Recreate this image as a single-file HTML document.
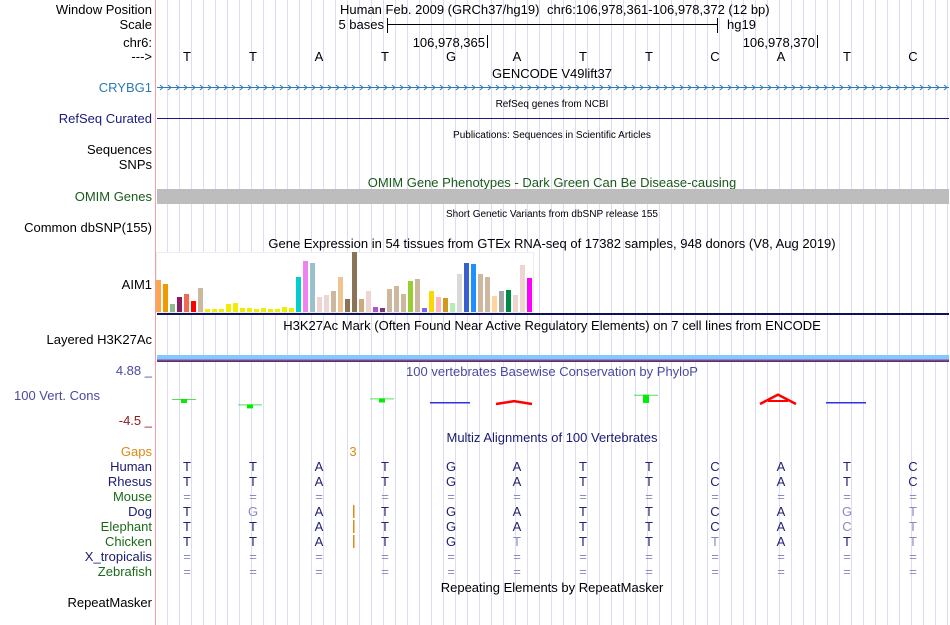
<!DOCTYPE html>
<html><head><meta charset="utf-8"><style>
html,body{margin:0;padding:0;background:#fff;}
svg{display:block;font-family:"Liberation Sans",sans-serif;}
</style></head><body>
<svg id="page" width="950" height="625" viewBox="0 0 950 625" xmlns="http://www.w3.org/2000/svg">
<g id="grid"></g>
<line x1="155.5" y1="0" x2="155.5" y2="625" stroke="#f4a0a0" stroke-width="1"/>
<g id="labels" font-size="13" text-anchor="end">
<text x="152" y="14" fill="#000">Window Position</text>
<text x="152" y="29" fill="#000">Scale</text>
<text x="152" y="47" fill="#000">chr6:</text>
<text x="152" y="61" fill="#000">---&gt;</text>
<text x="152" y="92" fill="#2a7ab8">CRYBG1</text>
<text x="152" y="123" fill="#1a1a80">RefSeq Curated</text>
<text x="152" y="154" fill="#000">Sequences</text>
<text x="152" y="169" fill="#000">SNPs</text>
<text x="152" y="201" fill="#1a5a1a">OMIM Genes</text>
<text x="152" y="232" fill="#000">Common dbSNP(155)</text>
<text x="152" y="289" fill="#000">AIM1</text>
<text x="152" y="344" fill="#000">Layered H3K27Ac</text>
<text x="152" y="375" fill="#4a4aa0">4.88 _</text>
<text x="100" y="400" fill="#4a4aa0">100 Vert. Cons</text>
<text x="152" y="425" fill="#8b1a1a">-4.5 _</text>
<text x="152" y="456" fill="#e08a10">Gaps</text>
<text x="152" y="607" fill="#000">RepeatMasker</text>
</g>
<g id="center" fill="#000" font-size="13">
<text x="340" y="14">Human Feb. 2009 (GRCh37/hg19)</text>
<text x="547" y="14">chr6:106,978,361-106,978,372 (12 bp)</text>
<text x="384" y="29" text-anchor="end">5 bases</text>
<line x1="387" y1="24.5" x2="717" y2="24.5" stroke="#000"/>
<line x1="387.5" y1="18" x2="387.5" y2="33" stroke="#000"/>
<line x1="717.5" y1="18" x2="717.5" y2="33" stroke="#000"/>
<text x="727" y="29">hg19</text>
<text x="485" y="47" text-anchor="end">106,978,365</text>
<line x1="487.5" y1="35" x2="487.5" y2="48" stroke="#000"/>
<text x="815" y="47" text-anchor="end">106,978,370</text>
<line x1="817.5" y1="35" x2="817.5" y2="48" stroke="#000"/>
<g id="bases" text-anchor="middle"></g>
<text x="552" y="78" text-anchor="middle">GENCODE V49lift37</text>
<line x1="157" y1="87.5" x2="949" y2="87.5" stroke="#2a7ab8"/>
<g id="arrows" stroke="#2a7ab8" fill="none"></g>
<text x="552" y="107" text-anchor="middle" font-size="10">RefSeq genes from NCBI</text>
<line x1="157" y1="118.5" x2="949" y2="118.5" stroke="#1a1a80"/>
<text x="552" y="138" text-anchor="middle" font-size="10">Publications: Sequences in Scientific Articles</text>
<text x="552" y="187" text-anchor="middle" fill="#1a5a1a">OMIM Gene Phenotypes - Dark Green Can Be Disease-causing</text>
<rect x="157" y="189" width="792" height="15" fill="#bdbdbd"/>
<text x="552" y="217" text-anchor="middle" font-size="10">Short Genetic Variants from dbSNP release 155</text>
<text x="552" y="248" text-anchor="middle">Gene Expression in 54 tissues from GTEx RNA-seq of 17382 samples, 948 donors (V8, Aug 2019)</text>
<rect x="156.5" y="252.5" width="377" height="60" fill="#fff" stroke="#eee"/>
<g id="gtex"></g>
<rect x="157" y="313" width="792" height="2" fill="#101060"/>
<text x="552" y="330" text-anchor="middle">H3K27Ac Mark (Often Found Near Active Regulatory Elements) on 7 cell lines from ENCODE</text>
<rect x="157" y="355" width="792" height="4" fill="#80ccf8"/>
<rect x="157" y="359" width="792" height="1" fill="#9a7ae8"/>
<rect x="157" y="360" width="792" height="1" fill="#5a50b0"/>
<rect x="157" y="361" width="792" height="1" fill="#7a2a3a"/>
<text x="552" y="376" text-anchor="middle" fill="#4a4aa0">100 vertebrates Basewise Conservation by PhyloP</text>
<g id="phylo"></g>
<text x="552" y="442" text-anchor="middle" fill="#1a1a70">Multiz Alignments of 100 Vertebrates</text>
<text x="353" y="456" text-anchor="middle" fill="#e08a10">3</text>
<g id="multiz" text-anchor="middle"></g>
<text x="552" y="592" text-anchor="middle">Repeating Elements by RepeatMasker</text>
</g>
<script>
var NS='http://www.w3.org/2000/svg';
function mk(t,a,p){var e=document.createElementNS(NS,t);for(var k in a)e.setAttribute(k,a[k]);p.appendChild(e);return e;}
var refBases=['T','T','A','T','G','A','T','T','C','A','T','C'];
var gtexHeights=[32,28,8,15,18,11,24,3,3,3,8,9,4,4,3,4,3,3,5,4,35,51,49,15,17,21,35,13,60,13,21,5,4,23,26,18,31,33,4,21,15,14,9,38,49,48,38,35,16,21,22,17,47,34];
var gtexColors=['#FFA54F','#EE9A00','#8FBC8F','#8B1C62','#EE6A50','#FF0000','#CDB79E','#EEEE00','#EEEE00','#EEEE00','#EEEE00','#EEEE00','#EEEE00','#EEEE00','#EEEE00','#EEEE00','#EEEE00','#EEEE00','#EEEE00','#EEEE00','#00CED1','#EE82EE','#9AC0CD','#EED5D2','#EED5D2','#CDB79E','#EEC591','#8B7355','#8B7355','#CDAA7D','#EED5D2','#B452CD','#7A378B','#CDB79E','#CDB79E','#CDB79E','#9ACD32','#CDB79E','#7B68EE','#FFD700','#FFB6C1','#CD9B1D','#B4EEB4','#D9D9D9','#3A5FCD','#1E90FF','#CDB79E','#CDB79E','#FFD39B','#A6A6A6','#008B45','#EED5D2','#EED5D2','#FF00FF'];
var phyloScores=[1.0,-0.8,0,1.2,-0.2,0.6,0,2.4,0,2.8,-0.2,0];
var speciesNames=['Human','Rhesus','Mouse','Dog','Elephant','Chicken','X_tropicalis','Zebrafish'];
var speciesSeqs=['TTATGATTCATC','TTATGATTCATC','============','TgATGATTCAgt','TTATGATTCAct','TTATGtTTtATt','============','============'];
var speciesColors=['#1a1a70','#1a1a70','#1a6a1a','#1a1a70','#1a6a1a','#1a6a1a','#1a1a70','#1a6a1a'];
function bx(i){return 187+66*i;}
var g=document.getElementById('grid');
for(var x=167;x<=948;x+=12){var l=mk('line',{x1:x+.5,y1:0,x2:x+.5,y2:625,stroke:'#dcdcf4','stroke-width':1},g);

}
var bg=document.getElementById('bases');
refBases.forEach(function(b,i){var t=mk('text',{x:bx(i),y:61},bg);t.textContent=b;

});
var ag=document.getElementById('arrows');
for(var x=160;x<948;x+=8){var p=mk('path',{d:'M'+x+' 85 L'+(x+3)+' 87.5 L'+x+' 90'},ag);

}
var gg=document.getElementById('gtex');
var base=312,scaleY=1;
gtexHeights.forEach(function(h,i){var r=mk('rect',{x:156+7*i,y:base-h*scaleY,width:5,height:h*scaleY,fill:gtexColors[i]},gg);

});
var pg=document.getElementById('phylo');
var zeroY=402,py=3;
phyloScores.forEach(function(s,i){if(s===0)return;var cx=bx(i)-3;var el;
if(i===5||i===9){var h=s*py;var top=zeroY+1-h;
el=mk('path',{d:'M'+(cx-18)+' '+(zeroY+2)+' L'+cx+' '+top+' L'+(cx+18)+' '+(zeroY+2),stroke:'#ff0000','stroke-width':2.5,fill:'none'},pg);
if(i===9)mk('line',{x1:cx-10,y1:zeroY-1,x2:cx+10,y2:zeroY-1,stroke:'#ff0000','stroke-width':2},pg);}
else if(i===4||i===10){el=mk('rect',{x:cx-18,y:zeroY,width:40,height:1.5,fill:'#3030e0'},pg);}
else{var y=zeroY-s*py;mk('line',{x1:cx-12,y1:y+.5,x2:cx+12,y2:y+.5,stroke:'#50e050'},pg);
el=mk('rect',{x:cx-3,y:y,width:6,height:Math.max(4,Math.abs(s)*3.4),fill:'#00ee00'},pg);}

});
var mg=document.getElementById('multiz');
speciesNames.forEach(function(n,r){var y=471+15*r;
var lab=mk('text',{x:152,y:y,'text-anchor':'end','font-size':'13',fill:speciesColors[r]},mg);lab.textContent=n;


speciesSeqs[r].split('').forEach(function(c,i){var light=(c!=='='&&c===c.toLowerCase());
var t=mk('text',{x:bx(i),y:y,'font-size':'13',fill:(c==='='||light)?'#8a8ac0':'#22226e'},mg);t.textContent=c.toUpperCase();

});
if(r>=3&&r<=5){var gl=mk('rect',{x:353,y:y-11,width:1.5,height:13,fill:'#e08a10'},mg);

}});
</script>
</svg>
</body></html>
